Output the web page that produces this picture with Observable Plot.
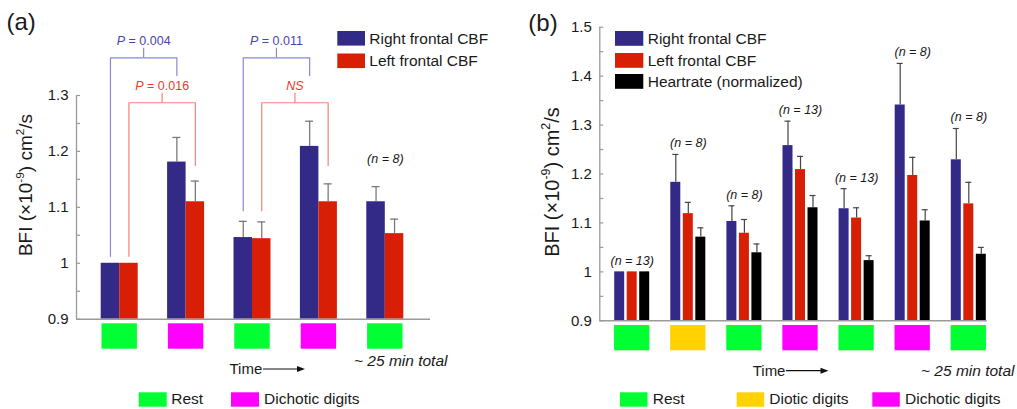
<!DOCTYPE html>
<html>
<head>
<meta charset="utf-8">
<script src="https://cdn.jsdelivr.net/npm/d3@7"></script>
<script src="https://cdn.jsdelivr.net/npm/@observablehq/plot@0.6"></script>
<style>
  html, body { margin: 0; padding: 0; background: #fff; }
  #wrap { display: flex; width: 1017px; height: 409px; overflow: hidden; }
  #wrap svg { display: block; flex: none; }
</style>
</head>
<body>
<div id="wrap"></div>
<script>
// ---------------- DATA ----------------
// Panel (a)
const groupsA = ["Rest 1", "Dichotic 1", "Rest 2", "Dichotic 2", "Rest 3"];
const conditionsA = ["Rest", "Dichotic digits", "Rest", "Dichotic digits", "Rest"];
const rightA = [1.0, 1.181, 1.046, 1.209, 1.110];
const rightSEA = [0, 0.044, 0.029, 0.045, 0.027];
const leftA = [1.0, 1.110, 1.044, 1.110, 1.053];
const leftSEA = [0, 0.037, 0.030, 0.032, 0.026];
const nLabelsA = [null, null, null, null, "(n = 8)"];
const tickValuesA = [0.9, 1, 1.1, 1.2, 1.3];
const tickLabelsA = ["0.9", "1", "1.1", "1.2", "1.3"];
const minorTicksA = [0.95, 1.05, 1.15, 1.25];
const comparisonsA = [
  {series: "right", from: 0, to: 1, label: "P = 0.004"},
  {series: "left", from: 0, to: 1, label: "P = 0.016"},
  {series: "right", from: 2, to: 3, label: "P = 0.011"},
  {series: "left", from: 2, to: 3, label: "NS"}
];

// Panel (b)
const groupsB = ["Rest 1", "Diotic", "Rest 2", "Dichotic 1", "Rest 3", "Dichotic 2", "Rest 4"];
const conditionsB = ["Rest", "Diotic digits", "Rest", "Dichotic digits", "Rest", "Dichotic digits", "Rest"];
const rightB = [1.0, 1.183, 1.103, 1.258, 1.129, 1.341, 1.229];
const rightSEB = [0, 0.057, 0.032, 0.050, 0.041, 0.085, 0.064];
const leftB = [1.0, 1.119, 1.079, 1.209, 1.110, 1.197, 1.139];
const leftSEB = [0, 0.023, 0.028, 0.027, 0.021, 0.037, 0.044];
const heartB = [1.0, 1.071, 1.039, 1.131, 1.023, 1.104, 1.036];
const heartSEB = [0, 0.019, 0.018, 0.025, 0.010, 0.023, 0.014];
const nLabelsB = ["(n = 13)", "(n = 8)", "(n = 8)", "(n = 13)", "(n = 13)", "(n = 8)", "(n = 8)"];
const tickValuesB = [0.9, 1, 1.1, 1.2, 1.3, 1.4, 1.5];
const tickLabelsB = ["0.9", "1", "1.1", "1.2", "1.3", "1.4", "1.5"];
const minorTicksB = [0.95, 1.05, 1.15, 1.25, 1.35, 1.45];

const seriesNames = ["Right frontal CBF", "Left frontal CBF", "Heartrate (normalized)"];
const conditionNamesA = ["Rest", "Dichotic digits"];
const conditionNamesB = ["Rest", "Diotic digits", "Dichotic digits"];

// ---------------- STYLE ----------------
const FONT = "'Liberation Sans', Arial, Helvetica, sans-serif";
const BLUE = "#332a88", RED = "#d81e04", BLACK = "#000000";
const condColor = {"Rest": "#00ff33", "Diotic digits": "#ffd200", "Dichotic digits": "#ff00ff"};
const AXIS = "#9a9a9a";
const TEXT = "#1a1a1a";

// ---------------- PANEL A ----------------
const dataA = groupsA.map((g, i) => ({
  i, g, cond: conditionsA[i],
  right: rightA[i], rse: rightSEA[i],
  left: leftA[i], lse: leftSEA[i],
  n: nLabelsA[i]
}));

const A = {width: 510, height: 409, mL: 76, mR: 80, mT: 95, mB: 90.3};
const stepA = 66.4;                   // px per group
const ua = 1 / stepA;                 // x units per px
const pyA = 0.4 / (A.height - A.mB - A.mT); // y units per px
const xA0 = -(119.2 - A.mL) / stepA;
const xA1 = 4 + (A.width - A.mR - (119.2 + 4 * stepA)) / stepA;
const bwA = 18.5 * ua;
const seriesA = [
  {key: "right", se: "rse", color: BLUE, off: -bwA / 2, line: "#8a86d8", text: "#4a44aa", level: 1.3673, rightEnd: 1.3357},
  {key: "left", se: "lse", color: RED, off: bwA / 2, line: "#f28377", text: "#ec3a2a", level: 1.287, rightEnd: 1.175}
];
const leftEndA = [1.0125, null, 1.094];

const bracketMarks = [];
for (const c of comparisonsA) {
  const s = seriesA.find(d => d.key === c.series);
  const xl = c.from + s.off, xr = c.to + s.off, xm = (xl + xr) / 2;
  const pts = [[xl, leftEndA[c.from]], [xl, s.level], [xr, s.level], [xr, s.rightEnd]];
  const tickTop = s.level + 9.6 * pyA;
  bracketMarks.push(
    Plot.line(pts, {x: d => d[0], y: d => d[1], stroke: s.line, strokeWidth: 1.2}),
    Plot.ruleX([xm], {x: d => d, y1: () => s.level, y2: () => tickTop, stroke: s.line, strokeWidth: 1.2}),
    Plot.text([c], {x: () => xm, y: () => tickTop, text: d => d.label, lineAnchor: "bottom", dy: -3,
      fill: s.text, fontSize: 12.5, fontStyle: c.label === "NS" ? "italic" : "normal"})
  );
}

const plotA = Plot.plot({
  width: A.width, height: A.height,
  marginLeft: A.mL, marginRight: A.mR, marginTop: A.mT, marginBottom: A.mB,
  x: {type: "linear", domain: [xA0, xA1], axis: null},
  y: {type: "linear", domain: [0.9, 1.3], axis: null},
  style: {fontFamily: FONT, fontSize: "15px", background: "white", overflow: "visible", color: TEXT},
  marks: [
    // bars
    ...seriesA.map(s => Plot.rect(dataA, {
      x1: d => d.i + s.off - bwA / 2, x2: d => d.i + s.off + bwA / 2,
      y1: () => 0.9, y2: d => d[s.key], fill: s.color
    })),
    // error bars
    ...seriesA.map(s => Plot.ruleX(dataA.filter(d => d[s.se] > 0), {
      x: d => d.i + s.off, y1: d => d[s.key], y2: d => d[s.key] + d[s.se], stroke: "#7a7a7a", strokeWidth: 1.3
    })),
    ...seriesA.map(s => Plot.ruleY(dataA.filter(d => d[s.se] > 0), {
      y: d => d[s.key] + d[s.se], x1: d => d.i + s.off - 4 * ua, x2: d => d.i + s.off + 4 * ua, stroke: "#7a7a7a", strokeWidth: 1.3
    })),
    // brackets
    ...bracketMarks,
    // n label
    Plot.text(dataA.filter(d => d.n), {x: d => d.i, y: d => d.right + d.rse, dy: -28, text: "n",
      fontSize: 12.5, fontStyle: "italic", fill: TEXT}),
    // axes
    Plot.ruleX([xA0], {x: d => d, y1: () => 0.9, y2: () => 1.3, stroke: AXIS, strokeWidth: 1.3}),
    Plot.ruleY([0.9], {y: d => d, x1: () => xA0, x2: () => xA1, stroke: AXIS, strokeWidth: 1.6}),
    Plot.ruleY([...tickValuesA, ...minorTicksA], {y: d => d, x1: () => xA0, x2: () => xA0 + 4 * ua, stroke: AXIS, strokeWidth: 1.2}),
    Plot.text(tickValuesA, {x: () => xA0, y: d => d, text: (d, i) => tickLabelsA[i], textAnchor: "end", dx: -8, fontSize: 15, fill: TEXT}),
    // condition squares
    Plot.rect(dataA, {
      x1: d => d.i - 17.7 * ua, x2: d => d.i + 17.7 * ua,
      y1: () => 0.9 - 4.6 * pyA, y2: () => 0.9 - 30 * pyA,
      fill: d => condColor[d.cond]
    })
  ]
});

// ---------------- PANEL B ----------------
const dataB = groupsB.map((g, i) => ({
  i, g, cond: conditionsB[i],
  right: rightB[i], rse: rightSEB[i],
  left: leftB[i], lse: leftSEB[i],
  heart: heartB[i], hse: heartSEB[i],
  n: nLabelsB[i]
}));

const B = {width: 507, height: 409, mL: 89.3, mR: 30.3, mT: 26.7, mB: 88.7};
const stepB = 56.1;
const ub = 1 / stepB;
const pyB = 0.6 / (B.height - B.mB - B.mT);
const c0B = 631.7 - 510;
const xB0 = -(c0B - B.mL) / stepB;
const xB1 = 6 + (B.width - B.mR - (c0B + 6 * stepB)) / stepB;
const bwB = 10 * ub;
const seriesB = [
  {key: "right", se: "rse", color: BLUE, off: -12.5 * ub},
  {key: "left", se: "lse", color: RED, off: 0},
  {key: "heart", se: "hse", color: BLACK, off: 12.5 * ub}
];

const plotB = Plot.plot({
  width: B.width, height: B.height,
  marginLeft: B.mL, marginRight: B.mR, marginTop: B.mT, marginBottom: B.mB,
  x: {type: "linear", domain: [xB0, xB1], axis: null},
  y: {type: "linear", domain: [0.9, 1.5], axis: null},
  style: {fontFamily: FONT, fontSize: "15px", background: "white", overflow: "visible", color: TEXT},
  marks: [
    ...seriesB.map(s => Plot.rect(dataB, {
      x1: d => d.i + s.off - bwB / 2, x2: d => d.i + s.off + bwB / 2,
      y1: () => 0.9, y2: d => d[s.key], fill: s.color
    })),
    ...seriesB.map(s => Plot.ruleX(dataB.filter(d => d[s.se] > 0), {
      x: d => d.i + s.off, y1: d => d[s.key], y2: d => d[s.key] + d[s.se], stroke: "#444", strokeWidth: 1.2
    })),
    ...seriesB.map(s => Plot.ruleY(dataB.filter(d => d[s.se] > 0), {
      y: d => d[s.key] + d[s.se], x1: d => d.i + s.off - 3 * ub, x2: d => d.i + s.off + 3 * ub, stroke: "#444", strokeWidth: 1.2
    })),
    Plot.text(dataB, {x: d => d.i, y: d => d.right + d.rse, dy: -11, text: "n",
      fontSize: 12.5, fontStyle: "italic", fill: TEXT}),
    Plot.ruleX([xB0], {x: d => d, y1: () => 0.9, y2: () => 1.5, stroke: AXIS, strokeWidth: 1.3}),
    Plot.ruleY([0.9], {y: d => d, x1: () => xB0, x2: () => xB1, stroke: AXIS, strokeWidth: 1.6}),
    Plot.ruleY([...tickValuesB, ...minorTicksB], {y: d => d, x1: () => xB0, x2: () => xB0 + 4 * ub, stroke: AXIS, strokeWidth: 1.2}),
    Plot.text(tickValuesB, {x: () => xB0, y: d => d, text: (d, i) => tickLabelsB[i], textAnchor: "end", dx: -8, fontSize: 15, fill: TEXT}),
    Plot.rect(dataB, {
      x1: d => d.i - 17.65 * ub, x2: d => d.i + 17.65 * ub,
      y1: () => 0.9 - 4.7 * pyB, y2: () => 0.9 - 30 * pyB,
      fill: d => condColor[d.cond]
    })
  ]
});

// ---------------- ANNOTATIONS ----------------
function txt(svg, x, y, s, size, opts = {}) {
  const t = svg.append("text").attr("x", x).attr("y", y).attr("font-size", size)
    .attr("fill", opts.fill || TEXT).attr("font-family", FONT)
    .attr("text-anchor", opts.anchor || "start").text(s);
  if (opts.italic) t.attr("font-style", "italic");
  return t;
}
function yLabel(svg, x, y, size) {
  const t = svg.append("text").attr("transform", `translate(${x},${y}) rotate(-90)`)
    .attr("text-anchor", "middle").attr("font-size", size).attr("fill", TEXT).attr("font-family", FONT);
  t.append("tspan").text("BFI (×10");
  t.append("tspan").attr("font-size", size * 0.62).attr("dy", -size * 0.42).text("-9");
  t.append("tspan").attr("dy", size * 0.42).text(") cm");
  t.append("tspan").attr("font-size", size * 0.62).attr("dy", -size * 0.42).text("2");
  t.append("tspan").attr("dy", size * 0.42).text("/s");
}
function arrow(svg, x1, x2, y) {
  svg.append("line").attr("x1", x1).attr("x2", x2 - 6).attr("y1", y).attr("y2", y).attr("stroke", "#111").attr("stroke-width", 1.2);
  svg.append("path").attr("d", `M${x2 - 8},${y - 3}L${x2},${y}L${x2 - 8},${y + 3}Z`).attr("fill", "#111");
}
function swatch(svg, x, y, w, h, fill) {
  svg.append("rect").attr("x", x).attr("y", y).attr("width", w).attr("height", h).attr("fill", fill);
}
function italicP(svg) {
  d3.select(svg).selectAll("text").each(function () {
    const s = this.textContent;
    if (s.startsWith("P = ")) {
      const sel = d3.select(this);
      sel.text("");
      sel.append("tspan").attr("font-style", "italic").text("P");
      sel.append("tspan").text(s.slice(1));
    }
  });
}

// Panel A annotations
{
  italicP(plotA);
  const svg = d3.select(plotA);
  txt(svg, 6.5, 29.5, "(a)", 24);
  yLabel(svg, 31.5, 185, 19);
  const legColors = [BLUE, RED];
  [43.5, 66].forEach((by, k) => {
    swatch(svg, 337.3, by - 12.5, 27.7, 14.6, legColors[k]);
    txt(svg, 369.3, by, seriesNames[k], 15.5);
  });
  txt(svg, 229.5, 374, "Time", 15);
  arrow(svg, 263, 305, 369);
  txt(svg, 354, 365.7, "~ 25 min total", 15.5, {italic: true});
  const bl = [[138.7, 171.3], [231, 264]];
  conditionNamesA.forEach((c, k) => {
    swatch(svg, bl[k][0], 392.3, 28, 14.4, condColor[c]);
    txt(svg, bl[k][1], 404, c, 15.5);
  });
}
// Panel B annotations
{
  const svg = d3.select(plotB);
  txt(svg, 18.3, 31, "(b)", 24);
  yLabel(svg, 48.5, 182, 20);
  const legColors = [BLUE, RED, BLACK];
  [43.5, 65.5, 86.5].forEach((by, k) => {
    swatch(svg, 105, by - 12.5, 28.3, 14.8, legColors[k]);
    txt(svg, 137.7, by, seriesNames[k], 15.5);
  });
  txt(svg, 242.7, 376, "Time", 15);
  arrow(svg, 276, 318.5, 370.7);
  txt(svg, 411, 376, "~ 25 min total", 15.5, {italic: true});
  const bl = [[110, 142.7], [226.7, 259.3], [362.3, 395]];
  conditionNamesB.forEach((c, k) => {
    swatch(svg, bl[k][0], 392.3, 27.5, 14.4, condColor[c]);
    txt(svg, bl[k][1], 404, c, 15.5);
  });
}

document.getElementById("wrap").append(plotA, plotB);
</script>
</body>
</html>
